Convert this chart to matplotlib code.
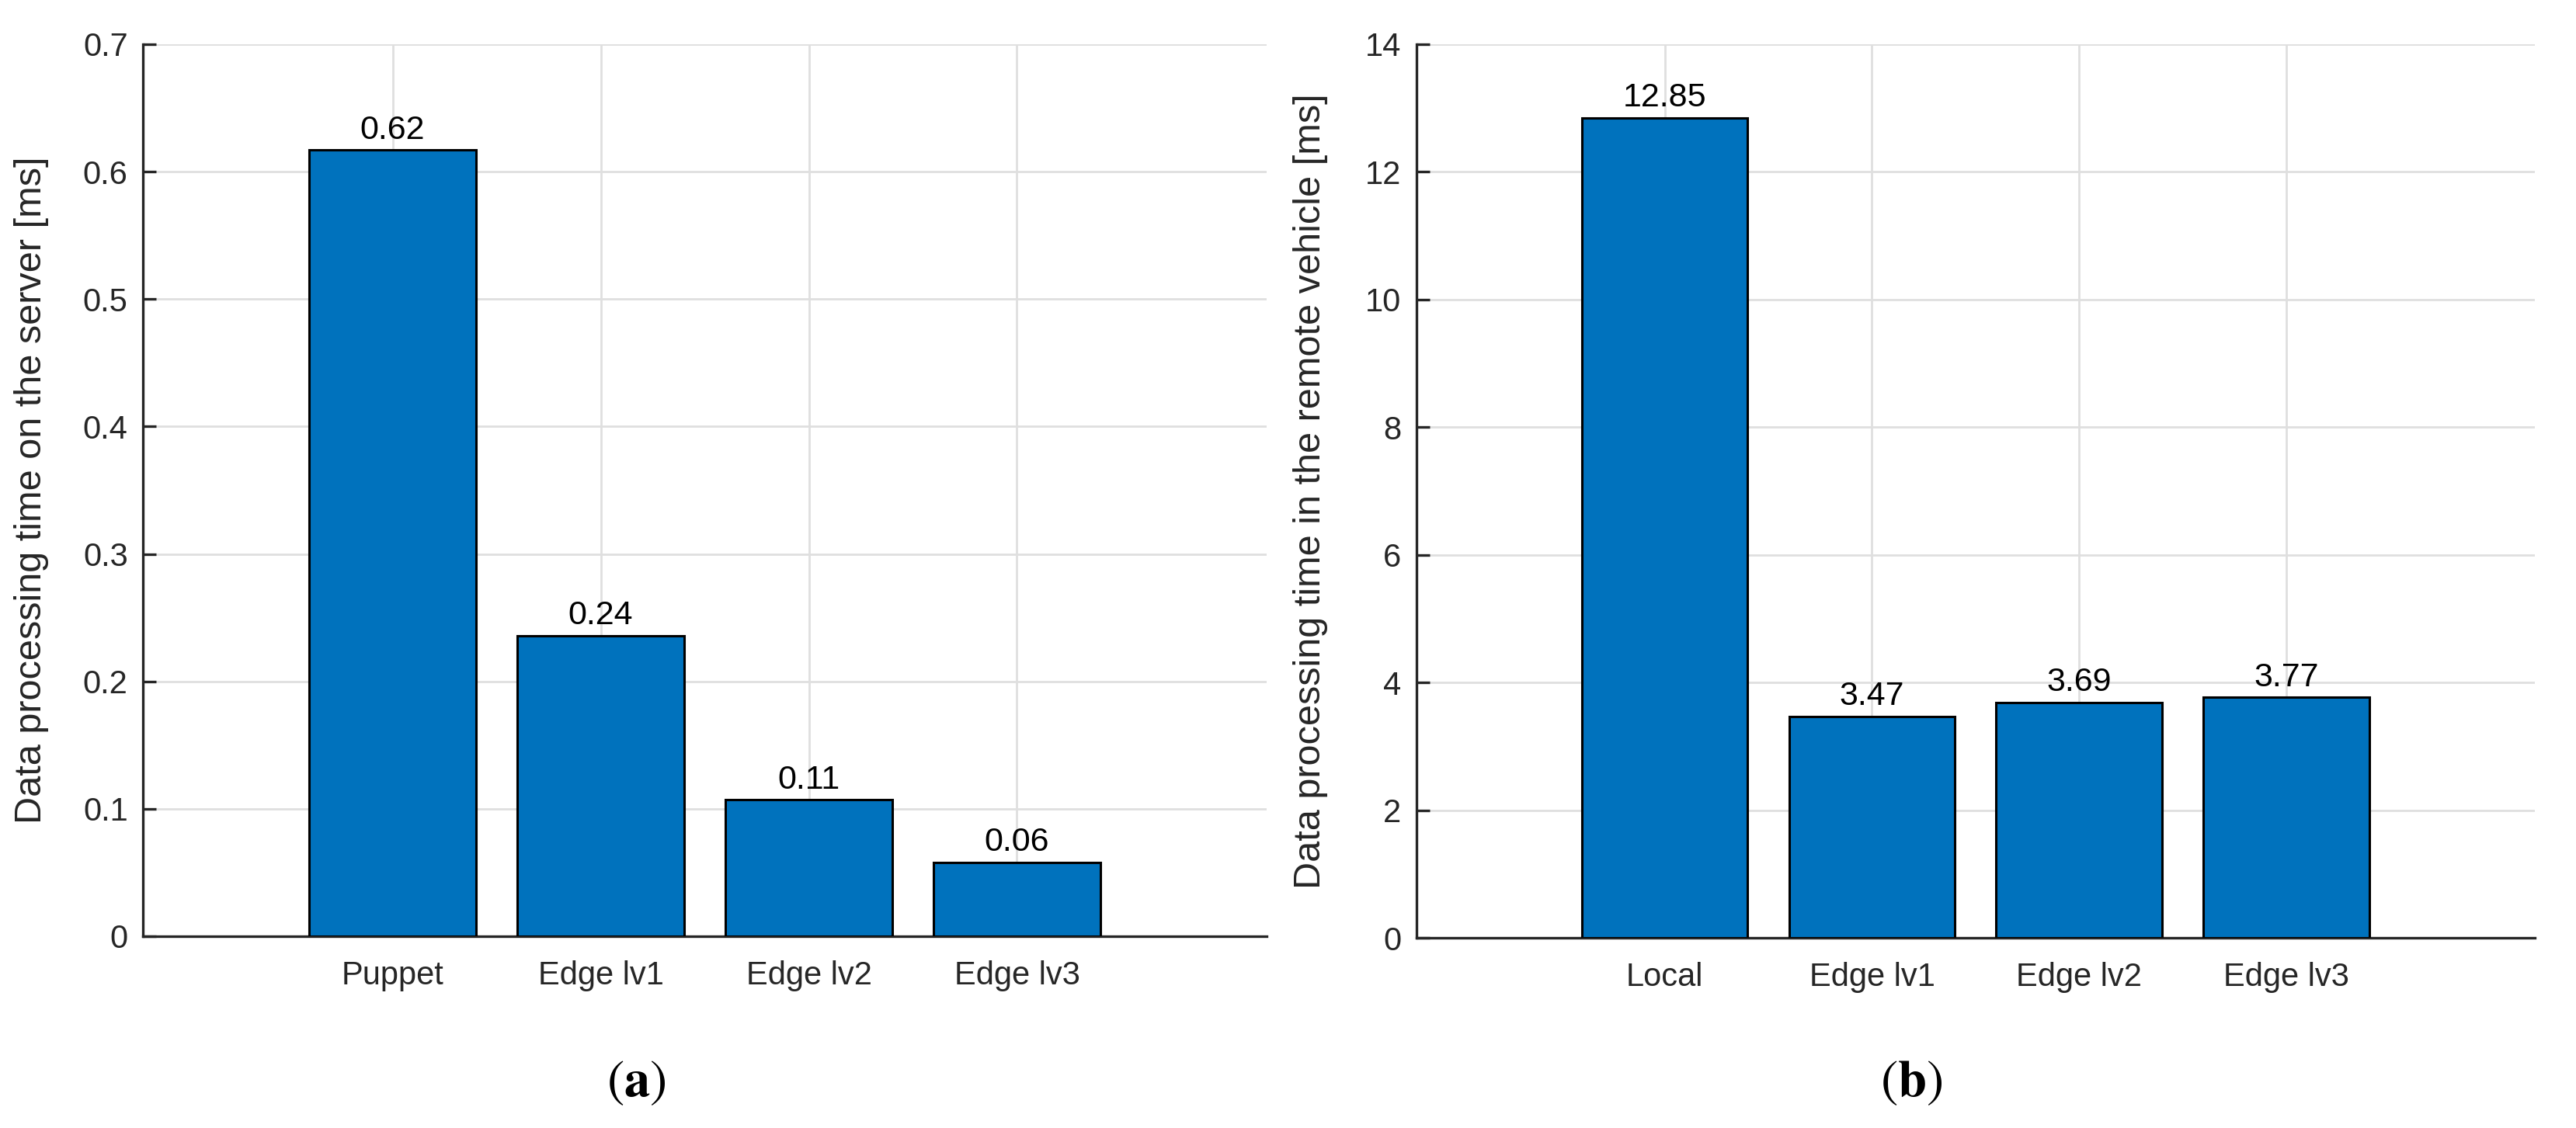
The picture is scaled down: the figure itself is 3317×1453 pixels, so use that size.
import matplotlib
matplotlib.use("Agg")
import matplotlib.pyplot as plt
import numpy as np

plt.rcParams['font.family'] = ['Liberation Sans', 'DejaVu Sans']
plt.rcParams['mathtext.fontset'] = 'stix'

# Data
cats_a = ["Puppet", "Edge lv1", "Edge lv2", "Edge lv3"]
vals_a = [0.617, 0.236, 0.107, 0.058]
labels_a = ["0.62", "0.24", "0.11", "0.06"]
ylabel_a = "Data processing time on the server [ms]"
yticks_a = [0, 0.1, 0.2, 0.3, 0.4, 0.5, 0.6, 0.7]

cats_b = ["Local", "Edge lv1", "Edge lv2", "Edge lv3"]
vals_b = [12.85, 3.47, 3.69, 3.77]
labels_b = ["12.85", "3.47", "3.69", "3.77"]
ylabel_b = "Data processing time in the remote vehicle [ms]"
yticks_b = [0, 2, 4, 6, 8, 10, 12, 14]

captions = ["a", "b"]

W, H, DPI = 3317, 1453, 200
fig = plt.figure(figsize=(W / DPI, H / DPI), dpi=DPI)

axc = '#262626'
gridc = '#dfdfdf'
barc = '#0072BD'

def panel(rect, cats, vals, labels, yticks, ylabel, ylabel_x, cap, cap_x):
    ax = fig.add_axes(rect)
    x = np.arange(1, len(cats) + 1)
    ax.set_axisbelow(True)
    ax.grid(True, color=gridc, linewidth=1.0)
    bars = ax.bar(x, vals, width=0.8, color=barc, edgecolor='black', linewidth=1.1, zorder=3)
    for b, lab in zip(bars, labels):
        ax.annotate(lab, (b.get_x() + b.get_width() / 2, b.get_height()),
                    xytext=(0, 2), textcoords='offset points', ha='center', va='bottom',
                    fontsize=15.5, color='black', zorder=4)
    ax.set_xlim(-0.2, 5.2)
    ax.set_ylim(yticks[0], yticks[-1])
    ax.set_xticks(x)
    ax.set_xticklabels(cats)
    ax.set_yticks(yticks)
    ax.set_yticklabels([f"{t:g}" for t in yticks])
    for s in ['top', 'right']:
        ax.spines[s].set_visible(False)
    for s in ['left', 'bottom']:
        ax.spines[s].set_color(axc)
        ax.spines[s].set_linewidth(1.2)
    ax.tick_params(axis='y', direction='in', length=6, width=1.2, colors=axc, labelsize=15, pad=7)
    ax.tick_params(axis='x', length=0, colors=axc, labelsize=15, pad=11)
    ax.set_ylabel(ylabel, fontsize=17.5, color=axc)
    ax.yaxis.set_label_coords(ylabel_x, 0.5)
    fig.text(cap_x, 0.04, r'$(\mathbf{' + cap + r'})$', ha='center', va='center', fontsize=24)
    return ax

panel([0.0555, 0.170, 0.4362, 0.7908], cats_a, vals_a, labels_a, yticks_a, ylabel_a, -0.0836, captions[0], 0.247)
panel([0.5498, 0.1686, 0.4342, 0.7922], cats_b, vals_b, labels_b, yticks_b, ylabel_b, -0.079, captions[1], 0.742)

fig.savefig("out.png", dpi=DPI)
